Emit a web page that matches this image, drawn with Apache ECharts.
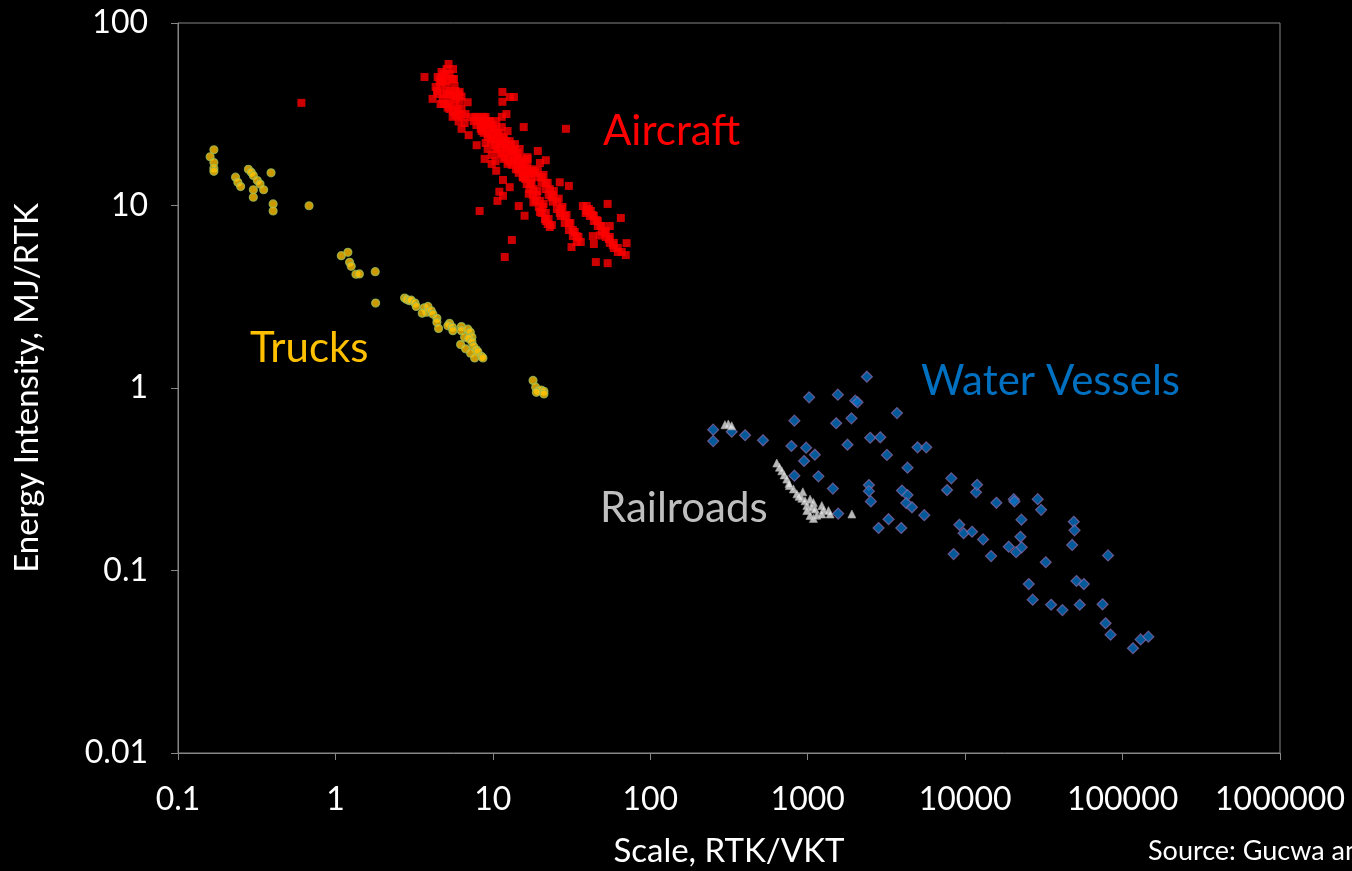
<!DOCTYPE html>
<html><head><meta charset="utf-8">
<script src="https://cdn.jsdelivr.net/npm/echarts@6/dist/echarts.min.js"></script>
<style>html,body{margin:0;padding:0;background:#000;}#c{width:1352px;height:871px;}</style>
</head><body><div id="c"></div>
<script>
const xTicks = [0.1, 1, 10, 100, 1000, 10000, 100000, 1000000];
const yTicks = [0.01, 0.1, 1, 10, 100];

const trucks = [
 [0.169,20.2],[0.160,18.5],[0.169,17.2],[0.169,16.0],[0.169,15.4],[0.232,14.3],[0.240,13.4],[0.250,12.7],
 [0.280,15.8],[0.292,15.2],[0.301,14.6],[0.319,13.7],[0.332,13.1],[0.301,12.2],[0.301,11.1],[0.350,12.2],
 [0.390,15.1],[0.402,10.2],[0.402,9.33],[0.680,9.97],
 [1.09,5.31],[1.20,5.54],[1.23,4.88],[1.26,4.64],[1.35,4.20],[1.42,4.22],[1.79,4.34],[1.80,2.92],
 [2.75,3.11],[2.84,3.05],[2.96,3.01],[3.03,3.03],[3.20,2.92],[3.26,2.80],[3.67,2.75],[3.87,2.80],
 [3.81,2.60],[3.56,2.57],[4.06,2.65],[4.16,2.54],[4.41,2.41],[4.41,2.29],[4.52,2.12],
 [5.31,2.26],[5.18,2.19],[5.53,2.15],[5.57,2.06],[6.31,2.17],[6.31,2.06],[6.94,2.10],[7.19,2.02],
 [7.36,1.90],[6.62,1.90],[7.02,1.87],[6.24,1.73],[6.71,1.64],[7.36,1.79],[7.55,1.69],[7.85,1.62],
 [8.04,1.58],[7.22,1.55],[7.66,1.46],[8.49,1.49],[8.65,1.46],
 [18.0,1.10],[18.7,1.01],[19.4,0.966],[20.3,0.975],[21.1,0.959],[21.1,0.927],[18.9,0.947]
];

const aircraft = [
 [0.608,36.5],[29.1,26.3],
 [3.68,50.6],[5.23,59.6],[5.59,55.9],[4.72,53.9],[5.01,50.6],[4.59,47.5],[4.80,48.2],[5.08,45.2],
 [5.71,45.2],[5.31,42.4],[6.15,41.9],[4.14,38.4],[4.80,38.4],[5.31,37.4],[5.71,35.3],[5.97,33.8],
 [5.59,32.7],[6.92,36.8],[6.33,30.6],[6.62,28.3],[7.02,24.3],[7.89,21.4],
 [4.42,42.4],[4.65,44.6],[5.08,40.8],[5.59,40.3],[5.79,38.4],[4.87,36.0],[5.16,34.4],[5.79,31.1],
 [6.15,37.4],[5.66,49.3],[5.08,56.0],
 [4.46,50.6],[4.86,52.6],[5.31,52.6],[5.55,49.3],[4.46,40.8],[4.86,40.8],[5.31,40.8],[5.80,42.4],
 [6.06,40.8],[4.65,36.0],[5.08,36.0],[5.31,33.8],[5.55,30.6],[6.06,31.7],[6.33,33.8],[6.06,28.9],
 [6.71,31.7],[6.33,26.3],[4.33,44.6],[5.08,48.2],[4.65,49.3],[5.80,39.5],[6.33,39.5],
 [11.5,41.9],[11.5,37.0],[12.8,39.3],[13.6,39.3],[12.2,31.7],[11.4,30.6],[15.7,26.9],
 [7.77,30.6],[8.24,29.0],[8.74,30.6],[9.00,27.6],[9.55,29.0],[8.49,25.6],[9.27,24.6],[10.1,26.3],
 [9.83,23.1],[10.7,24.3],[11.0,21.7],[10.4,20.4],[11.7,23.1],[12.4,25.6],[12.1,20.9],[13.2,19.9],
 [12.8,22.5],[13.8,21.7],[14.4,18.4],[13.6,17.5],[14.8,20.4],[15.3,16.9],[16.2,15.8],[16.6,18.0],
 [17.1,14.9],[11.4,26.9],[9.00,22.0],[11.0,19.2],[11.7,18.0],[12.4,16.9],[10.4,17.5],[9.83,18.9],
 [14.4,15.8],[15.7,14.3],[8.49,28.0],[10.5,29.0],[9.27,20.4],[9.83,16.9],[10.5,15.5],[8.87,18.0],
 [7.12,30.5],[7.99,30.5],[9.00,30.5],[7.86,27.6],[8.87,27.6],[9.97,27.6],[8.74,25.0],[9.83,25.0],
 [11.0,25.0],[9.69,22.5],[10.9,22.5],[12.2,22.5],[10.7,20.4],[12.1,20.4],[13.6,20.4],[11.9,18.4],
 [13.4,18.4],[15.0,18.4],[13.2,16.7],[14.8,16.7],[16.6,16.7],[14.6,15.1],[16.4,15.1],[18.5,15.1],
 [8.49,29.0],[9.41,26.3],[10.4,23.7],[11.5,21.5],[12.8,19.4],[14.2,17.5],[15.7,15.8],[17.4,14.3],
 [7.55,29.0],[8.37,26.3],[9.27,23.7],[10.3,21.5],[11.4,19.4],[12.6,17.5],[14.0,15.8],[15.5,14.3],
 [9.55,29.0],[10.5,26.3],[11.7,23.7],[13.0,21.5],[14.3,19.4],[15.9,17.5],[17.7,15.8],
 [10.7,10.6],[11.0,11.9],[11.6,11.3],[11.6,13.8],[12.8,12.6],[8.24,9.33],[11.9,5.22],[13.2,6.47],
 [15.5,14.3],[16.4,13.1],[17.1,12.3],[17.9,11.4],[18.7,10.6],[19.6,9.81],[20.4,9.10],[21.4,8.43],
 [22.3,7.92],[23.0,7.62],[16.9,11.6],[18.1,10.4],[19.9,9.21],[21.7,8.22],[17.6,13.4],[19.2,12.0],
 [21.0,10.2],[16.0,14.0],[14.6,9.93],[15.9,8.79],
 [17.4,13.1],[18.1,12.3],[19.0,11.4],[19.9,10.6],[20.7,9.81],[21.7,9.10],[22.6,8.43],[23.7,7.82],
 [19.3,15.5],[20.4,14.3],[21.7,13.3],[23.0,12.3],[24.0,11.4],[25.5,10.5],[27.0,9.57],[28.6,8.76],
 [30.4,8.02],[32.2,7.34],[34.1,6.80],[36.2,6.31],[21.0,14.7],[22.3,13.3],[24.4,12.0],[26.2,10.9],
 [27.7,9.81],[29.4,8.87],[31.1,8.02],[33.1,7.16],[35.0,6.72],[23.6,11.1],[26.6,9.10],
 [18.1,15.5],[19.3,14.3],[20.4,13.3],[21.7,12.3],[22.6,11.4],[24.0,10.5],[25.5,9.57],[27.0,8.76],
 [28.6,8.02],[30.4,7.34],[32.2,6.80],[34.1,6.31],
 [26.6,13.4],[30.4,12.8],[19.3,19.9],[21.7,17.7],[19.9,17.1],[16.6,18.4],
 [37.3,9.94],[39.5,9.33],[41.3,8.76],[43.8,8.22],[46.4,7.72],[49.2,7.25],[52.2,6.72],[55.3,6.24],
 [58.7,5.85],[62.2,5.56],[40.7,9.57],[43.1,8.87],[45.7,8.32],[48.5,7.72],[51.4,7.06],[54.5,6.55],
 [57.8,6.07],[38.9,9.10],[47.8,6.85],
 [39.5,9.94],[41.9,9.33],[43.8,8.76],[46.4,8.22],[49.2,7.72],[52.2,7.25],[55.3,6.72],[58.7,6.24],
 [62.2,5.85],[65.9,5.56],
 [53.6,10.2],[65.0,8.54],[55.3,7.72],[43.1,6.80],[43.8,6.15],[31.6,5.92],[45.1,4.90],[53.6,4.83],
 [70.7,6.22],[69.9,5.35]
];

const railroads = [
 [298,0.629],[313,0.635],[329,0.621],[636,0.388],[661,0.368],[684,0.352],[708,0.334],[736,0.317],
 [765,0.292],[811,0.280],[853,0.263],[931,0.270],[917,0.249],[962,0.241],[1035,0.246],[1087,0.236],
 [987,0.227],[1062,0.222],[1114,0.217],[1229,0.227],[1259,0.215],[1355,0.213],[1388,0.204],[987,0.213],
 [1035,0.200],[1087,0.193],[1142,0.201],[1229,0.204],[1907,0.204],[760,0.300],[880,0.255]
];

const water = [
 [251,0.591],[251,0.512],[329,0.576],[400,0.551],[520,0.517],[788,0.481],[1021,0.889],[977,0.471],
 [1110,0.431],[948,0.398],[823,0.662],[823,0.331],[1170,0.328],[1445,0.281],[1517,0.641],[1554,0.919],
 [1561,0.205],[1790,0.489],[1897,0.682],[2004,0.852],[2072,0.835],[2376,1.153],[2447,0.294],[2447,0.272],
 [2494,0.534],[2519,0.239],[2889,0.537],[3186,0.430],[2818,0.171],[3261,0.191],[3690,0.729],[3970,0.274],
 [4306,0.259],[4227,0.234],[4594,0.222],[3928,0.171],[4306,0.366],[4988,0.473],[5664,0.473],[5500,0.201],
 [7674,0.276],[8170,0.320],[8450,0.123],[9186,0.178],[9780,0.160],[11070,0.163],[11730,0.268],[11910,0.295],
 [13000,0.148],[14620,0.120],[15790,0.235],[18920,0.135],[20370,0.246],[20560,0.239],[21080,0.126],[22440,0.153],
 [22780,0.190],[22870,0.134],[25350,0.0843],[26870,0.0692],[28910,0.246],[30390,0.215],[32510,0.111],[35170,0.0649],
 [41500,0.0607],[47860,0.138],[48980,0.185],[49520,0.166],[50950,0.0876],[53460,0.0649],[56720,0.0843],[74620,0.0653],
 [77980,0.0514],[80880,0.121],[83920,0.0445],[116400,0.0375],[130200,0.0419],[145800,0.0434]
];

const FONT = 'Lato, "Open Sans", sans-serif';
function fmt(v){
  const e = Math.round(Math.log10(v));
  return e < 0 ? v.toFixed(-e) : String(Math.round(v));
}
const chart = echarts.init(document.getElementById('c'), null, {renderer:'canvas'});
chart.setOption({
  backgroundColor:'#000',
  animation:false,
  grid:{left:178, top:23, right:72, bottom:118, show:true, borderColor:'#868686', borderWidth:1,
        backgroundColor:'transparent', containLabel:false, outerBoundsMode:'none'},
  xAxis:{
    type:'log', logBase:10, min:xTicks[0], max:xTicks[xTicks.length-1],
    name:'Scale, RTK/VKT', nameLocation:'middle', nameGap:82,
    nameTextStyle:{color:'#fff', fontSize:33, fontFamily:FONT},
    axisLine:{show:true, lineStyle:{color:'#868686', width:1}},
    axisTick:{show:true, length:7, inside:false, lineStyle:{color:'#868686'}},
    minorTick:{show:false},
    splitLine:{show:false},
    axisLabel:{color:'#fff', fontSize:32, fontFamily:FONT, margin:31, formatter:fmt, showMaxLabel:true, showMinLabel:true, hideOverlap:false}
  },
  yAxis:{
    type:'log', logBase:10, min:yTicks[0], max:yTicks[yTicks.length-1],
    name:'Energy Intensity, MJ/RTK', nameLocation:'middle', nameGap:134, nameRotate:90,
    nameTextStyle:{color:'#fff', fontSize:33, fontFamily:FONT},
    axisLine:{show:true, lineStyle:{color:'#868686', width:1}},
    axisTick:{show:true, length:7, inside:false, lineStyle:{color:'#868686'}},
    splitLine:{show:false},
    axisLabel:{color:'#fff', fontSize:32, fontFamily:FONT, margin:30, formatter:fmt}
  },
  series:[
    {name:'Aircraft', type:'scatter', data:aircraft, symbol:'rect', symbolSize:8,
     itemStyle:{color:'#FF0000'}},
    {name:'Trucks', type:'scatter', data:trucks, symbol:'circle', symbolSize:8,
     itemStyle:{color:'#FFC000', borderColor:'#9BBB59', borderWidth:1.2}},
    {name:'Water Vessels', type:'scatter', data:water, symbol:'diamond', symbolSize:11,
     itemStyle:{color:'#0070C0', borderColor:'#8064A2', borderWidth:1.2}},
    {name:'Railroads', type:'scatter', data:railroads, symbol:'triangle', symbolSize:8,
     itemStyle:{color:'#E6E6E6', borderColor:'#A6A6A6', borderWidth:0.8}}
  ],
  graphic:[
    {type:'text', left:603, top:110, style:{text:'Aircraft', fill:'#FF0000', font:'42px '+FONT}},
    {type:'text', left:250, top:327, style:{text:'Trucks', fill:'#FFC000', font:'42px '+FONT}},
    {type:'text', left:921, top:360, style:{text:'Water Vessels', fill:'#0070C0', font:'42px '+FONT}},
    {type:'text', left:600, top:487, style:{text:'Railroads', fill:'#BFBFBF', font:'42px '+FONT}},
    {type:'text', left:1148, top:838, style:{text:'Source: Gucwa and Schäfer (2013)', fill:'#fff', font:'27px '+FONT}}
  ]
});
</script></body></html>
